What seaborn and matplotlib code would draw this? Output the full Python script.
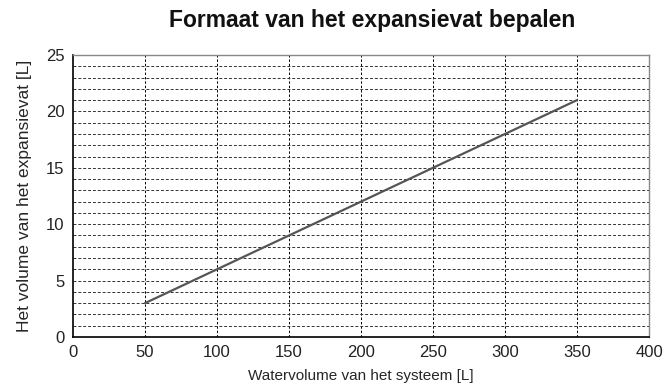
import matplotlib
matplotlib.use('Agg')
import matplotlib.pyplot as plt
import seaborn as sns
import numpy as np
import pandas as pd

# waterinhoud systeem [L] en benodigd volume expansievat [L]
water_volume = [50, 100, 150, 200, 250, 300, 350]
vessel_volume = [3, 6, 9, 12, 15, 18, 21]

x_ticks = [0, 50, 100, 150, 200, 250, 300, 350, 400]
y_ticks = [0, 5, 10, 15, 20, 25]

sns.set_style('white')
plt.rcParams['font.family'] = ['Liberation Sans', 'DejaVu Sans']

df = pd.DataFrame({'Water': water_volume, 'Vat': vessel_volume})

fig = plt.figure(figsize=(6.72, 3.92), dpi=100)
ax = fig.add_axes([0.1086, 0.1403, 0.8572, 0.7194])

# grid: vertical every 50, horizontal every 1
for xv in x_ticks[1:-1]:
    ax.axvline(xv, color='black', linestyle=(0, (2.5, 2)), linewidth=0.7, zorder=1)
for yv in range(1, 25):
    ax.axhline(yv, color='#333333', linestyle=(0, (3, 2)), linewidth=0.7, zorder=1)

sns.lineplot(data=df, x='Water', y='Vat', ax=ax, color='#555555', linewidth=1.6, zorder=3)

ax.set_xlim(0, 400)
ax.set_ylim(0, 25)
ax.set_xticks(x_ticks)
ax.set_yticks(y_ticks)
ax.tick_params(axis='both', labelsize=12, length=0, pad=6, colors='#222222')

for side in ['left', 'bottom']:
    ax.spines[side].set_color('black')
    ax.spines[side].set_linewidth(1.2)
for side in ['top', 'right']:
    ax.spines[side].set_color('#888888')
    ax.spines[side].set_linewidth(1.0)

ax.set_title('Formaat van het expansievat bepalen', fontsize=16.5, fontweight='bold',
             pad=20, color='#111111', x=0.52)
ax.set_xlabel('Watervolume van het systeem [L]', fontsize=11, labelpad=6)
ax.set_ylabel('Het volume van het expansievat [L]', fontsize=12.5, labelpad=10)

fig.savefig('out.png', dpi=100)
